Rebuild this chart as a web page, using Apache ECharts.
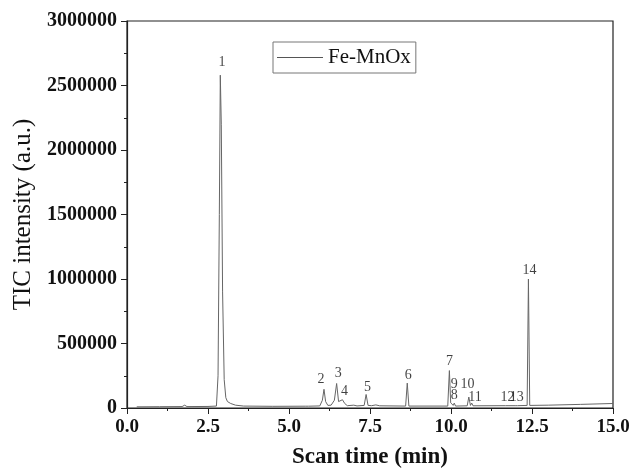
<!DOCTYPE html>
<html>
<head>
<meta charset="utf-8">
<script src="https://cdn.jsdelivr.net/npm/echarts@6/dist/echarts.min.js"></script>
<style>
  html, body { margin: 0; padding: 0; background: #fff; }
  #chart { width: 633px; height: 474px; }
</style>
</head>
<body>
<div id="chart"></div>
<script>
// chromatogram points (min, a.u.)
var scanTime = [
  0.30, 1.00, 1.70, 1.78, 1.85, 2.50, 2.76, 2.81, 2.85, 2.88, 2.91, 2.95, 3.00, 3.05, 3.10, 3.20, 3.35, 3.60,
  4.50, 5.50, 5.55, 5.60, 5.95, 6.03, 6.08, 6.13, 6.20, 6.30, 6.40, 6.47, 6.53, 6.58, 6.65, 6.72,
  6.80, 7.00, 7.10, 7.32, 7.38, 7.44, 7.55, 7.68, 7.80, 8.60, 8.65, 8.70, 9.90, 9.95, 9.99, 10.04,
  10.07, 10.10, 10.14, 10.50, 10.55, 10.60, 10.64, 10.68, 11.68, 11.72, 11.76, 11.98, 12.01, 12.05,
  12.35, 12.39, 12.43, 13.00, 14.00, 15.00
];
var intensity = [
  9000, 10000, 11000, 22000, 11000, 12000, 15000, 250000, 1500000, 2580000, 2200000, 900000, 220000, 80000, 50000, 35000, 22000, 15000,
  13000, 14000, 25000, 14000, 16000, 60000, 145000, 50000, 20000, 22000, 60000, 190000, 50000, 40000, 64000, 35000,
  18000, 22000, 16000, 20000, 105000, 20000, 18000, 24000, 17000, 15000, 193000, 15000, 15000, 290000, 40000, 32000,
  20000, 38000, 15000, 17000, 85000, 20000, 38000, 17000, 18000, 24000, 18000, 18000, 28000, 18000,
  20000, 1000000, 20000, 22000, 28000, 35000
];

// peak numbers and where they are written
var peakNames = ['1', '2', '3', '4', '5', '6', '7', '8', '9', '10', '11', '12', '13', '14'];
var peakLabelTime = [2.93, 5.99, 6.52, 6.71, 7.42, 8.68, 9.95, 10.10, 10.10, 10.51, 10.74, 11.74, 12.03, 12.42];
var peakLabelValue = [2682000, 223000, 270000, 129000, 160000, 257000, 360000, 98000, 187000, 180000, 82000, 82000, 82000, 1066000];

var xTicks = [0, 2.5, 5, 7.5, 10, 12.5, 15];
var yTicks = [0, 500000, 1000000, 1500000, 2000000, 2500000, 3000000];

var chart = echarts.init(document.getElementById('chart'));

var lineData = scanTime.map(function (t, i) { return [t, intensity[i]]; });
var labelData = peakNames.map(function (n, i) {
  return { name: n, value: [peakLabelTime[i], peakLabelValue[i]] };
});

var serif = '"Liberation Serif", "DejaVu Serif", serif';

var option = {
  backgroundColor: '#fff',
  animation: false,
  grid: {
    left: 127,
    right: 20,
    top: 21,
    bottom: 64,
    show: true,
    borderColor: '#222',
    borderWidth: 1.2
  },
  legend: {
    data: ['Fe-MnOx'],
    left: 273,
    top: 42,
    padding: [5, 5, 5, 4],
    icon: 'rect',
    itemWidth: 46,
    itemHeight: 1,
    itemGap: 4,
    itemStyle: { color: '#555' },
    borderColor: '#777',
    borderWidth: 1,
    textStyle: { fontFamily: serif, fontSize: 21, color: '#111' }
  },
  xAxis: {
    type: 'value',
    min: xTicks[0],
    max: xTicks[xTicks.length - 1],
    interval: 2.5,
    name: 'Scan time (min)',
    nameLocation: 'middle',
    nameGap: 38,
    nameTextStyle: { fontFamily: serif, fontSize: 23, fontWeight: 'bold', color: '#111' },
    axisLine: { lineStyle: { color: '#222', width: 1.2 } },
    axisTick: { inside: false, length: 6, lineStyle: { color: '#222' } },
    minorTick: { show: true, splitNumber: 2, length: 3, lineStyle: { color: '#222' } },
    splitLine: { show: false },
    axisLabel: {
      fontFamily: serif, fontSize: 19, fontWeight: 'bold', color: '#111', margin: 10,
      formatter: function (v) { return v.toFixed(1); }
    }
  },
  yAxis: {
    type: 'value',
    min: yTicks[0],
    max: yTicks[yTicks.length - 1],
    interval: 500000,
    name: 'TIC intensity (a.u.)',
    nameLocation: 'middle',
    nameGap: 86,
    nameTextStyle: { fontFamily: serif, fontSize: 25, color: '#111' },
    axisLine: { lineStyle: { color: '#222', width: 1.2 } },
    axisTick: { inside: false, length: 6, lineStyle: { color: '#222' } },
    minorTick: { show: true, splitNumber: 2, length: 3, lineStyle: { color: '#222' } },
    splitLine: { show: false },
    axisLabel: {
      fontFamily: serif, fontSize: 20, fontWeight: 'bold', color: '#111', margin: 10,
      formatter: function (v) { return String(v); }
    }
  },
  series: [
    {
      name: 'Fe-MnOx',
      type: 'line',
      symbol: 'none',
      data: lineData,
      lineStyle: { color: '#666', width: 1 },
      itemStyle: { color: '#555' }
    },
    {
      name: 'labels',
      type: 'scatter',
      symbolSize: 0,
      silent: true,
      data: labelData,
      label: {
        show: true,
        position: 'inside',
        formatter: '{b}',
        fontFamily: serif,
        fontSize: 14,
        color: '#111'
      }
    }
  ]
};

chart.setOption(option);
</script>
</body>
</html>
